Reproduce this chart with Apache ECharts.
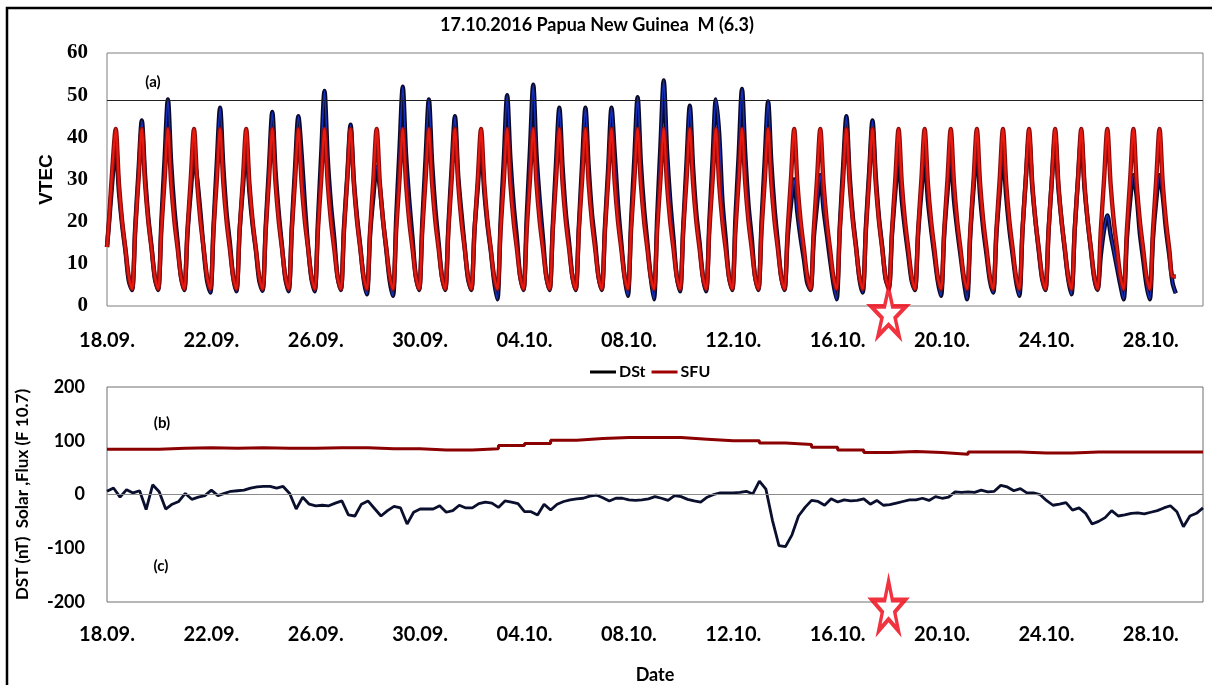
<!DOCTYPE html>
<html><head><meta charset="utf-8">
<script src="https://cdn.jsdelivr.net/npm/echarts@6/dist/echarts.min.js"></script>
<style>html,body{margin:0;padding:0;background:#fff}#c{width:1212px;height:685px}</style>
</head><body><div id="c"></div>
<script>
// ---- data ----
const tickLabels = ['18.09.','22.09.','26.09.','30.09.','04.10.','08.10.','12.10.','16.10.','20.10.','24.10.','28.10.'];
const sampleHours = [2,5,8,11,14,17,20,23];   // UT hours of VTEC samples each day
const vtecObsStart = 14;
const vtecModelStart = 14;
const vtecObs = [
[20,30,38,27,19,13,6,3.8],[19,32,44,31,21,14,6.5,3.8],[20,35,49,34,23,15,7,3.8],[17,27,35,30,22,13,6,3.2],
[19,34,47,33,22,15,7,3.5],[18,28,38,27,19,13,6,3.6],[19,33,46,32,22,14,6.5,3.5],[19,33,45,36,24,14,6.5,3.5],
[20,36,51,35,24,16,7,3.8],[19,31,43,30,21,14,6.5,2.8],[17,26,33,28,20,13,6,2.4],[21,37,52,36,25,16,7,3.8],
[20,35,49,34,23,15,7,3.8],[19,33,45,31,22,14,6.5,3.8],[18,28,38,27,19,13,6,1.6],[20,35,50,35,24,16,7,3.8],
[21,37,52.5,36,25,16,7,3.8],[19,34,47,33,22,15,7,3.8],[19,34,47,33,22,15,7,3.8],[19,33,47,36,24,15,7,2.4],
[20,35,49.5,34,23,15,7,1.6],[21,38,53.5,37,25,16,7,3.5],[19,34,47.5,33,22,15,7,3.5],[20,35,49,41,25,16,7,3.8],
[21,36,51.5,36,24,16,7,3.8],[20,35,48.5,34,23,15,7,3.8],[16,24,30,22,16,11,5.5,3.8],[16,24,31,23,17,11,5.5,1.6],
[19,33,45,31,21,14,6.5,3.2],[19,32,44,31,21,14,6.5,4.5],[17,27,35,25,18,12,6,3.8],[17,27,35,25,18,12,6,2.4],
[17,27,35,25,18,12,6,1.6],[17,28,37,26,18,12,6,3.2],[17,27,36,26,18,12,6,2.4],[18,30,40,28,20,13,6.5,3.8],
[18,30,40,28,20,13,6.5,2.8],[18,30,40,28,20,13,6.5,3.8],[12,18,21.5,17,13,9,5,1.6],[16,25,31,26,17,11,5,1.6],
[16,25,31,26,18,12,5.5,3]
];
const vtecModel = [
[21,33,42,29,20,13.5,7,4],[18,30,42,29,20,13.5,7,4],[18,30,42,29,20,13.5,7,4],[18,30,42,29,20,13.5,7,4],
[18,30,42,29,20,13.5,7,4],[18,30,42,29,20,13.5,7,4],[18,30,42,29,20,13.5,7,4],[18,30,42,29,20,13.5,7,4],
[18,30,42,29,20,13.5,7,4],[18,30,42,29,20,13.5,7,4],[18,30,42,29,20,13.5,7,4],[18,30,42,29,20,13.5,7,4],
[18,30,42,29,20,13.5,7,4],[18,30,42,29,20,13.5,7,4],[18,30,42,29,20,13.5,7,4],[18,30,42,29,20,13.5,7,4],
[18,30,42,29,20,13.5,7,4],[18,30,42,29,20,13.5,7,4],[18,30,42,29,20,13.5,7,4],[18,30,42,29,20,13.5,7,4],
[18,30,42,29,20,13.5,7,4],[18,30,42,29,20,13.5,7,4],[18,30,42,29,20,13.5,7,4],[18,30,42,29,20,13.5,7,4],
[18,30,42,29,20,13.5,7,4],[18,30,42,29,20,13.5,7,4],[18,30,42,29,20,13.5,7,4],[18,30,42,29,20,13.5,7,4],
[18,30,42,29,20,13.5,7,4],[18,30,42,29,20,13.5,7,4],[18,30,42,29,20,13.5,7,4],[18,30,42,29,20,13.5,7,4],
[18,30,42,29,20,13.5,7,4],[18,30,42,29,20,13.5,7,4],[18,30,42,29,20,13.5,7,4],[18,30,42,29,20,13.5,7,4],
[18,30,42,29,20,13.5,7,4],[18,30,42,29,20,13.5,7,4],[18,30,42,29,20,13.5,7,4],[18,30,42,29,20,13.5,7,4],
[18,30,42,29,20,13.5,7,7]
];
const vtecThreshold = 48.7;
// Dst every 6 h from 18.09 00 UT
const dst = [
6,12,-5,9, 3,7,-28,18, 5,-27,-18,-13, 2,-9,-5,-2, 8,-2,2,6, 7,8,12,14, 15,15,12,15, 2,-27,-5,-18,
-21,-20,-21,-16, -12,-38,-40,-18, -12,-26,-40,-30, -22,-25,-55,-33, -27,-27,-27,-21, -33,-30,-20,-25,
-25,-17,-14,-16, -24,-12,-14,-17, -32,-32,-38,-18, -29,-18,-13,-10, -8,-7,-3,-1, -6,-12,-7,-7,
-10,-11,-10,-8, -4,-7,-11,-2, -4,-9,-12,-14, -5,0,3,3, 3,4,6,1, 25,10,-48,-95, -97,-75,-40,-24,
-11,-13,-20,-8, -14,-10,-12,-11, -8,-18,-11,-20, -19,-16,-13,-10, -10,-7,-11,-4, -7,-5,5,4,
5,4,8,5, 6,17,14,7, 11,3,3,0, -11,-20,-18,-15, -29,-25,-35,-55, -50,-43,-30,-40, -38,-35,-34,-36,
-33,-30,-25,-21, -32,-60,-40,-35, -25
];
// daily solar flux F10.7 (SFU)
const sfu = [84,84,86,87,86,87,86,86,87,87,85,85,83,83,85,91,95,101,104,106,106,106,103,100,100,96,93,88,83,78,80,78,75,79,79,77,77,79,79,79,79,79];
const quakeDay = 29.95;          // 17.10.2016 event, days after 18.09 00 UT
const starLevelTop = -1.4, starLevelBottom = -207;

// ---- build ----
function vtecSeries(rows, start){
  const out = [[0, start]];
  rows.forEach((r, d) => r.forEach((v, k) => out.push([d + sampleHours[k]/24, v])));
  return out;
}
const obsData = vtecSeries(vtecObs, vtecObsStart);
const modelData = vtecSeries(vtecModel, vtecModelStart);
const dstData = dst.map((v, i) => [i/4, v]);
const sfuData = sfu.map((v, i) => [i, v]).concat([[sfu.length, sfu[sfu.length-1]]]);

const starPath = 'path://M50,0 L61,35 L98,35 L68,57 L79,91 L50,70 L21,91 L32,57 L2,35 L39,35 Z';
const fmt = v => (v % 4 === 0 && v/4 < tickLabels.length) ? tickLabels[v/4] : '';
const bold = (size, fam) => ({fontFamily: fam || 'Lato', fontWeight: 'bold', fontSize: size, color: '#000'});

const chart = echarts.init(document.getElementById('c'));
chart.setOption({
  animation: false,
  backgroundColor: '#fff',
  grid: [
    {left:107, right:9, top:53, height:253, show:true, borderColor:'#7f7f7f', borderWidth:1},
    {left:107, right:9, top:387, height:220, show:true, borderColor:'#6f6f6f', borderWidth:1}
  ],
  xAxis: [
    {gridIndex:0, type:'value', min:0, max:42, interval:4, axisLine:{show:false}, axisTick:{show:false}, splitLine:{show:false},
     axisLabel:Object.assign({formatter:fmt, margin:25, showMaxLabel:false}, bold(20))},
    {gridIndex:1, type:'value', min:0, max:42, interval:4, axisLine:{show:false}, axisTick:{show:false}, splitLine:{show:false},
     axisLabel:Object.assign({formatter:fmt, margin:23, showMaxLabel:false}, bold(20)),
     name:'Date', nameLocation:'middle', nameGap:64, nameTextStyle:bold(18)}
  ],
  yAxis: [
    {gridIndex:0, type:'value', min:0, max:60, interval:10, axisLine:{show:false}, axisTick:{show:false}, splitLine:{show:false},
     axisLabel:Object.assign({margin:19}, bold(21, 'Liberation Serif')),
     name:'VTEC', nameLocation:'middle', nameGap:50, nameTextStyle:bold(19, 'Liberation Sans')},
    {gridIndex:1, type:'value', min:-200, max:200, interval:100, axisLine:{show:false}, axisTick:{show:false}, splitLine:{show:false},
     axisLabel:Object.assign({margin:22}, bold(18)),
     name:'DST (nT)  Solar ,Flux (F 10.7)', nameLocation:'middle', nameGap:76, nameTextStyle:bold(17)}
  ],
  legend: {data:['DSt','SFU'], left:585, top:359, icon:'rect', itemWidth:26, itemHeight:3, itemGap:6,
           textStyle:Object.assign({padding:[0,0,0,-2]}, bold(16))},
  series: [
    {name:'VTEC obs edge', type:'line', xAxisIndex:0, yAxisIndex:0, data:obsData, showSymbol:false, symbol:'none', smooth:0.3,
     lineStyle:{color:'#08082a', width:4.4}, silent:true, z:2,
     markLine:{silent:true, symbol:'none', label:{show:false}, lineStyle:{color:'#222', width:1, type:'solid'}, data:[{yAxis:vtecThreshold}]}},
    {name:'VTEC obs', type:'line', xAxisIndex:0, yAxisIndex:0, data:obsData, showSymbol:false, symbol:'none', smooth:0.3,
     lineStyle:{color:'#1630b8', width:1.6}, silent:true, z:3},
    {name:'VTEC model edge', type:'line', xAxisIndex:0, yAxisIndex:0, data:modelData, showSymbol:false, symbol:'none', smooth:0.3,
     lineStyle:{color:'#8a0c0c', width:4.4}, silent:true, z:4},
    {name:'VTEC model', type:'line', xAxisIndex:0, yAxisIndex:0, data:modelData, showSymbol:false, symbol:'none', smooth:0.3,
     lineStyle:{color:'#e8190f', width:2.2}, silent:true, z:5},
    {name:'quake top', type:'scatter', xAxisIndex:0, yAxisIndex:0, data:[[quakeDay, starLevelTop]], clip:false,
     symbol:starPath, symbolSize:[35,48], itemStyle:{color:'#fff', borderColor:'#ee0010', borderWidth:4}, z:10, silent:true},
    {name:'DSt', type:'line', xAxisIndex:1, yAxisIndex:1, data:dstData, showSymbol:false, symbol:'none',
     lineStyle:{color:'#0a0f2e', width:2.8}, itemStyle:{color:'#000'}, z:4,
     markLine:{silent:true, symbol:'none', label:{show:false}, lineStyle:{color:'#8a8a8a', width:1, type:'solid'}, data:[{yAxis:0}]}},
    {name:'SFU', type:'line', xAxisIndex:1, yAxisIndex:1, data:sfuData, step:'end', showSymbol:false, symbol:'none',
     lineStyle:{color:'#8b0000', width:3}, itemStyle:{color:'#a00000'}, z:4},
    {name:'quake bottom', type:'scatter', xAxisIndex:1, yAxisIndex:1, data:[[quakeDay, starLevelBottom]], clip:false,
     symbol:starPath, symbolSize:[33,50], itemStyle:{color:'#fff', borderColor:'#ee0010', borderWidth:4}, z:10, silent:true}
  ],
  graphic: [
    {type:'rect', shape:{x:7, y:8, width:1230, height:700}, style:{fill:null, stroke:'#000', lineWidth:2.5}, silent:true},
    {type:'text', x:597, y:25, style:{text:'17.10.2016 Papua New Guinea  M (6.3)', align:'center', verticalAlign:'middle', font:'bold 18px Lato', fill:'#000'}},
    {type:'text', x:153, y:82, style:{text:'(a)', align:'center', verticalAlign:'middle', font:'bold 15px Lato', fill:'#000'}},
    {type:'text', x:162, y:423, style:{text:'(b)', align:'center', verticalAlign:'middle', font:'bold 15px Lato', fill:'#000'}},
    {type:'text', x:161, y:566, style:{text:'(c)', align:'center', verticalAlign:'middle', font:'bold 15px Lato', fill:'#000'}}
  ]
});
</script></body></html>
